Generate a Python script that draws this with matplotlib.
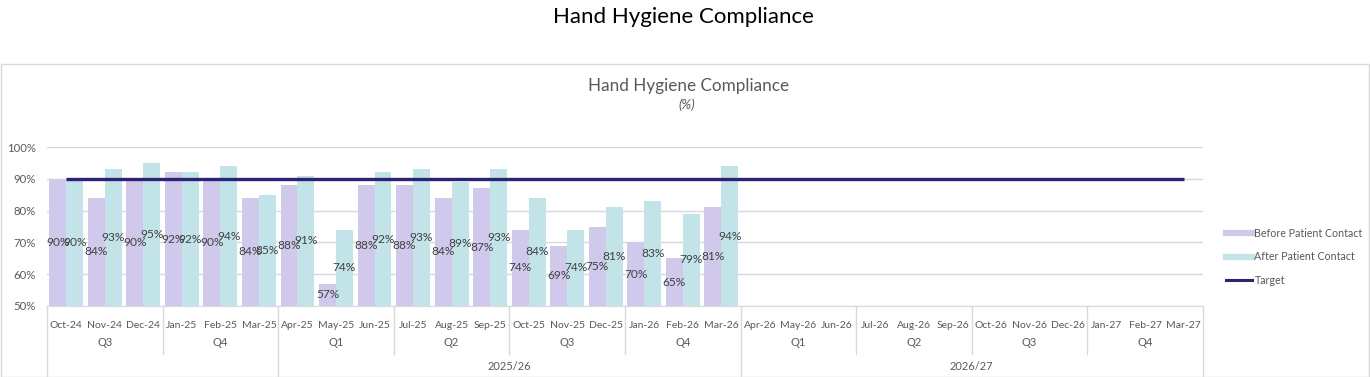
import numpy as np
import matplotlib
matplotlib.use("Agg")
import matplotlib.pyplot as plt
from matplotlib.lines import Line2D
from matplotlib.patches import Rectangle

plt.rcParams['font.family'] = ['Lato', 'DejaVu Sans']

months = ["Oct-24", "Nov-24", "Dec-24", "Jan-25", "Feb-25", "Mar-25",
          "Apr-25", "May-25", "Jun-25", "Jul-25", "Aug-25", "Sep-25",
          "Oct-25", "Nov-25", "Dec-25", "Jan-26", "Feb-26", "Mar-26",
          "Apr-26", "May-26", "Jun-26", "Jul-26", "Aug-26", "Sep-26",
          "Oct-26", "Nov-26", "Dec-26", "Jan-27", "Feb-27", "Mar-27"]
quarters = ["Q3", "Q4", "Q1", "Q2", "Q3", "Q4", "Q1", "Q2", "Q3", "Q4"]
years = ["", "2025/26", "2026/27"]
year_sizes = [6, 12, 12]

nan = np.nan
before = [90, 84, 90, 92, 90, 84, 88, 57, 88, 88, 84, 87, 74, 69, 75, 70, 65, 81] + [nan] * 12
after = [90, 93, 95, 92, 94, 85, 91, 74, 92, 93, 89, 93, 84, 74, 81, 83, 79, 94] + [nan] * 12
target = [90] * 30

c_before = "#D0C9EC"
c_after = "#C2E4E9"
c_target = "#2E2273"
c_grid = "#D9D9D9"
c_text = "#595959"

W, H = 1370, 377
fig = plt.figure(figsize=(W / 100, H / 100), dpi=100)

# chart box
fig.patches.append(Rectangle((0.5 / W, 0), (W - 1.5) / W, (H - 64) / H, transform=fig.transFigure,
                             fill=False, edgecolor=c_grid, lw=1))

fig.text(683 / W, 1 - 17 / H, "Hand Hygiene Compliance", ha="center", va="center",
         fontsize=16, color="black")
fig.text(689 / W, 1 - 86 / H, "Hand Hygiene Compliance", ha="center", va="center",
         fontsize=12.3, color=c_text)
fig.text(687 / W, 1 - 105 / H, "(%)", ha="center", va="center",
         fontsize=9.5, color=c_text, style="italic")

left, right, top, bottom = 47, 1203, 147, 306
ax = fig.add_axes([left / W, 1 - bottom / H, (right - left) / W, (bottom - top) / H])
x = np.arange(len(months))
bw = 0.44
ax.bar(x - bw / 2, np.array(before) - 50, bottom=50, width=bw, color=c_before, label="Before Patient Contact", zorder=2)
ax.bar(x + bw / 2, np.array(after) - 50, bottom=50, width=bw, color=c_after, label="After Patient Contact", zorder=2)
ax.plot(x, target, color=c_target, lw=2.4, label="Target", zorder=3, solid_capstyle="butt")

for xi, b, a in zip(x, before, after):
    if not np.isnan(b):
        ax.text(xi - bw / 2, (50 + b) / 2, f"{b:.0f}%", ha="center", va="center", fontsize=8.6, color="#404040", zorder=4)
    if not np.isnan(a):
        ax.text(xi + bw / 2, (50 + a) / 2, f"{a:.0f}%", ha="center", va="center", fontsize=8.6, color="#404040", zorder=4)

ax.set_xlim(-0.5, len(months) - 0.5)
ax.set_ylim(50, 100)
ax.set_yticks([50, 60, 70, 80, 90, 100])
ax.set_yticklabels([f"{v}%" for v in [50, 60, 70, 80, 90, 100]], fontsize=8.2, color=c_text)
ax.yaxis.grid(True, color=c_grid, lw=1, zorder=0)
ax.set_axisbelow(True)
for s in ["top", "right", "left"]:
    ax.spines[s].set_visible(False)
ax.spines["bottom"].set_color(c_grid)
ax.tick_params(axis="y", length=0, pad=8)
ax.tick_params(axis="x", length=0)
ax.set_xticks(x)
ax.set_xticklabels(months, fontsize=7.5, color=c_text)
ax.tick_params(axis="x", pad=11)

trans = ax.get_xaxis_transform()
ah = bottom - top
# quarter labels and separators
for i, q in enumerate(quarters):
    ax.text(3 * i + 1, -(343 - bottom) / ah, q, transform=trans, ha="center", va="center",
            fontsize=8, color=c_text, clip_on=False)
year_edges = np.cumsum([0] + year_sizes) - 0.5
for i in range(len(quarters) + 1):
    xe = 3 * i - 0.5
    ybot = -(H - bottom + 2) / ah if xe in year_edges else -(354 - bottom) / ah
    ax.add_line(Line2D([xe, xe], [0, ybot], transform=trans, color=c_grid, lw=1, clip_on=False))
for i, yl in enumerate(years):
    xc = (year_edges[i] + year_edges[i + 1]) / 2
    ax.text(xc, -(367 - bottom) / ah, yl, transform=trans, ha="center", va="center",
            fontsize=8, color=c_text, clip_on=False)

handles = [Line2D([], [], color=c_before, lw=4.5),
           Line2D([], [], color=c_after, lw=4.5),
           Line2D([], [], color=c_target, lw=2.2)]
fig.legend(handles, ["Before Patient Contact", "After Patient Contact", "Target"],
           loc="center left", bbox_to_anchor=(1216 / W, 1 - 257 / H), frameon=False,
           fontsize=7.7, labelcolor=c_text, handlelength=2.5, handletextpad=0.2,
           labelspacing=1.15)

fig.savefig("out.png", dpi=100)
